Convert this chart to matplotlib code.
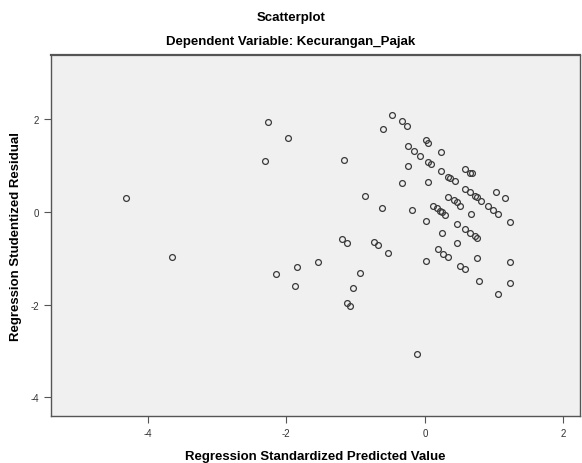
import matplotlib
matplotlib.use("Agg")
from matplotlib import pyplot as plt

# Regression Standardized Predicted Value (x) vs Studentized Residual (y)
predicted = [-4.32, -3.65, -2.26, -1.98, -2.30, -2.15, -1.85, -1.88, -1.54, -1.20,
             -1.13, -1.17, -0.94, -1.03, -1.13, -1.08, -0.86, -0.74, -0.67, -0.62,
             -0.60, -0.53, -0.48, -0.33, -0.26, -0.33, -0.25, -0.25, -0.15, -0.07,
             -0.19, -0.12, 0.01, 0.05, 0.05, 0.09, 0.05, 0.01, 0.01, 0.24,
             0.24, 0.33, 0.37, 0.43, 0.58, 0.65, 0.68, 0.58, 0.65, 0.72,
             0.75, 0.81, 1.03, 1.15, 0.33, 0.42, 0.46, 0.51, 0.91, 0.99,
             1.06, 0.12, 0.17, 0.22, 0.25, 0.29, 0.67, 1.23, 0.47, 0.58,
             0.65, 0.72, 0.75, 0.25, 0.46, 0.19, 0.26, 0.34, 0.75, 1.23,
             0.51, 0.58, 0.78, 1.23, 1.05]
residual = [0.30, -0.97, 1.94, 1.59, 1.10, -1.34, -1.18, -1.60, -1.09, -0.58,
            -0.66, 1.13, -1.31, -1.64, -1.97, -2.02, 0.34, -0.65, -0.72, 0.08,
            1.79, -0.88, 2.09, 1.95, 1.85, 0.63, 1.42, 0.98, 1.31, 1.21,
            0.04, -3.07, 1.55, 1.49, 1.07, 1.03, 0.64, -0.20, -1.06, 1.30,
            0.88, 0.75, 0.73, 0.67, 0.93, 0.84, 0.83, 0.50, 0.42, 0.34,
            0.32, 0.24, 0.42, 0.30, 0.32, 0.25, 0.21, 0.13, 0.13, 0.04,
            -0.04, 0.12, 0.08, 0.02, -0.01, -0.06, -0.05, -0.22, -0.26, -0.37,
            -0.45, -0.52, -0.56, -0.45, -0.68, -0.80, -0.90, -0.98, -0.99, -1.09,
            -1.16, -1.24, -1.48, -1.53, -1.77]

x_ticks = [-4, -2, 0, 2]
y_ticks = [-4, -2, 0, 2]

plt.rcParams['font.family'] = ['Liberation Sans', 'DejaVu Sans']
plt.rcParams['axes.unicode_minus'] = False

fig = plt.figure(figsize=(5.82, 4.64), dpi=100)
ax = fig.add_axes([0.0871, 0.1013, 0.9095, 0.7787])
ax.set_facecolor("#f0f0f0")

ax.plot(predicted, residual, linestyle="none", marker="o", markersize=4.2,
        markerfacecolor="none", markeredgecolor="#3a3a3a", markeredgewidth=0.9)

ax.set_xlim(-5.40, 2.24)
ax.set_ylim(-4.40, 3.39)
ax.set_xticks(x_ticks)
ax.set_yticks(y_ticks)
ax.tick_params(direction="out", length=5, width=0.8, colors="#555555",
               labelsize=7, labelcolor="#333333")
for side in ["left", "bottom", "top", "right"]:
    ax.spines[side].set_color("#555555")
    ax.spines[side].set_linewidth(1.0)
ax.spines["top"].set_linewidth(1.6)

fig.text(0.5, 0.962, "Scatterplot", ha="center", va="center",
         fontsize=9.5, fontweight="bold")
fig.text(0.5, 0.909, "Dependent Variable: Kecurangan_Pajak", ha="center",
         va="center", fontsize=9.5, fontweight="bold")
ax.set_xlabel("Regression Standardized Predicted Value", fontsize=9.5,
              fontweight="bold", labelpad=9)
ax.set_ylabel("Regression Studentized Residual", fontsize=9.5,
              fontweight="bold", labelpad=6)

plt.savefig("out.png", dpi=100)
